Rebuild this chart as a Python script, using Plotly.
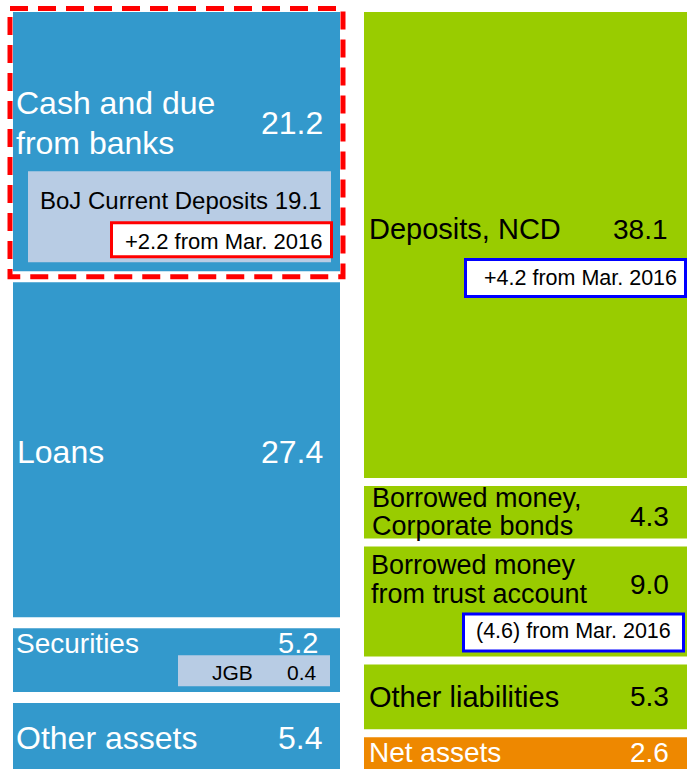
import plotly.graph_objects as go

# ---------------- data ----------------
asset_labels = [["Cash and due", "from banks"], ["Loans"], ["Securities"], ["Other assets"]]
asset_values = [21.2, 27.4, 5.2, 5.4]
liab_labels = [["Deposits, NCD"], ["Borrowed money,", "Corporate bonds"],
               ["Borrowed money", "from trust account"], ["Other liabilities"], ["Net assets"]]
liab_values = [38.1, 4.3, 9.0, 5.3, 2.6]
boj_label = "BoJ Current Deposits"
boj_value = 19.1
jgb_label = "JGB"
jgb_value = 0.4
change_cash = "+2.2 from Mar. 2016"
change_deposits = "+4.2 from Mar. 2016"
change_trust = "(4.6) from Mar. 2016"

# ---------------- styles ----------------
BLUE = "#3399CC"
GREEN = "#99CC00"
ORANGE = "#EE8800"
LIGHT = "#B8CCE4"
FONT = "Liberation Sans, Arial, sans-serif"

W, H = 687, 769
TOP_PAD = 12                 # white space above the blocks (px)
R = 61.9                     # y-axis span of the blocks (values + gaps)
PXY = (H - TOP_PAD) / R      # px per unit (y)
PXX = 351.0                  # px per unit (x)
BW = 327 / PXX               # bar width in x units


def dy(px):
    return px / PXY


def dx(px):
    return px / PXX


gap_l = (R - sum(asset_values)) / (len(asset_values) - 1)
gap_r = (R - sum(liab_values)) / (len(liab_values) - 1)


def tops(values, gap):
    t, out = 0.0, []
    for v in values:
        out.append(t)
        t += v + gap
    return out


a_top = tops(asset_values, gap_l)
l_top = tops(liab_values, gap_r)
a_bot = [t + v for t, v in zip(a_top, asset_values)]
l_bot = [t + v for t, v in zip(l_top, liab_values)]

fig = go.Figure()
fig.add_trace(go.Bar(x=[0] * len(asset_values), y=asset_values, base=a_top, width=BW,
                     marker=dict(color=BLUE, line=dict(width=0)), hoverinfo="skip"))
fig.add_trace(go.Bar(x=[1] * len(liab_values), y=liab_values, base=l_top, width=BW,
                     marker=dict(color=[GREEN, GREEN, GREEN, GREEN, ORANGE], line=dict(width=0)),
                     hoverinfo="skip"))

LX0, LX1 = -BW / 2, BW / 2
RX0, RC = 1 - BW / 2, 1.0

ann = []


def txt(text, x, y, xanchor, size, color, xs=0):
    ann.append(dict(text=text, x=x, y=y, xref="x", yref="y", xanchor=xanchor, yanchor="middle",
                    xshift=xs, showarrow=False, borderpad=0, borderwidth=0,
                    font=dict(family=FONT, size=size, color=color)))


# ---- assets ----
c = 0  # cash
txt(asset_labels[c][0], LX0, a_top[c] + dy(91), "left", 32, "white", 3)
txt(asset_labels[c][1], LX0, a_top[c] + dy(131), "left", 32, "white", 3)
txt(f"{asset_values[c]:.1f}", LX1, a_top[c] + dy(111), "right", 32, "white", -17)
c = 1  # loans
mid = (a_top[c] + a_bot[c]) / 2
txt(asset_labels[c][0], LX0, mid + dy(2), "left", 32, "white", 4)
txt(f"{asset_values[c]:.1f}", LX1, mid + dy(2), "right", 32, "white", -17)
c = 2  # securities
txt(asset_labels[c][0], LX0, a_top[c] + dy(15), "left", 28, "white", 3)
txt(f"{asset_values[c]:.1f}", LX1, a_top[c] + dy(15), "right", 29, "white", -22)
txt(jgb_label, LX1, a_top[c] + dy(44), "right", 21, "black", -87)
txt(f"{jgb_value:.1f}", LX1, a_top[c] + dy(44), "right", 21, "black", -23)
c = 3  # other assets
txt(asset_labels[c][0], LX0, a_top[c] + dy(35), "left", 32, "white", 3)
txt(f"{asset_values[c]:.1f}", LX1, a_top[c] + dy(35), "right", 32, "white", -18)

# BoJ box inside cash
boj_b = a_bot[0] - dy(9)
boj_t = boj_b - dy(91)
txt(f"{boj_label} {boj_value:.1f}", LX1, boj_t + dy(29), "right", 24, "black", -19)
txt(change_cash, LX1, boj_b - dy(21), "right", 22, "black", -17)

# ---- liabilities (right edge is cut by the page, anchor on column centre) ----
c = 0
txt(liab_labels[c][0], RX0, l_top[c] + dy(217), "left", 29, "black", 5)
txt(f"{liab_values[c]:.1f}", RC, l_top[c] + dy(217), "right", 28, "black", 140)
txt(change_deposits, RC, l_top[c] + dy(266), "right", 21.5, "black", 149)
c = 1
mid = (l_top[c] + l_bot[c]) / 2
txt(liab_labels[c][0], RX0, mid - dy(14), "left", 27, "black", 8)
txt(liab_labels[c][1], RX0, mid + dy(14), "left", 27, "black", 8)
txt(f"{liab_values[c]:.1f}", RC, mid + dy(4), "right", 28, "black", 141)
c = 2
txt(liab_labels[c][0], RX0, l_bot[c] - dy(91), "left", 27, "black", 7)
txt(liab_labels[c][1], RX0, l_bot[c] - dy(62), "left", 27, "black", 7)
txt(f"{liab_values[c]:.1f}", RC, l_bot[c] - dy(72), "right", 28, "black", 141)
txt(change_trust, RC, l_bot[c] - dy(25), "right", 21.5, "black", 143)
c = 3
mid = (l_top[c] + l_bot[c]) / 2
txt(liab_labels[c][0], RX0, mid, "left", 29, "black", 5)
txt(f"{liab_values[c]:.1f}", RC, mid, "right", 28, "black", 141)
c = 4
txt(liab_labels[c][0], RX0, l_top[c] + dy(15), "left", 28, "white", 5)
txt(f"{liab_values[c]:.1f}", RC, l_top[c] + dy(15), "right", 28, "white", 141)

# ---------------- shapes ----------------
shapes = [
    # BoJ light box
    dict(type="rect", xref="x", yref="y", x0=LX0 + dx(15), x1=LX1 - dx(9), y0=boj_t, y1=boj_b,
         fillcolor=LIGHT, line=dict(width=0), layer="above"),
    # red change box
    dict(type="rect", xref="x", yref="y", x0=LX0 + dx(98.5), x1=LX1 - dx(8.5),
         y0=boj_b - dy(39.5), y1=boj_b - dy(5.5),
         fillcolor="white", line=dict(color="#FF0000", width=3), layer="above"),
    # red dashed frame around cash
    dict(type="rect", xref="x", yref="y", x0=LX0 - dx(3), x1=LX1 + dx(3),
         y0=a_top[0] - dy(3.5), y1=a_bot[0] + dy(5.5),
         fillcolor="rgba(0,0,0,0)", line=dict(color="#FF0000", width=5, dash="18px,10px"),
         layer="above"),
    # JGB box
    dict(type="rect", xref="x", yref="y", x0=LX0 + dx(165), x1=LX1 - dx(10),
         y0=a_top[2] + dy(27), y1=a_top[2] + dy(58),
         fillcolor=LIGHT, line=dict(width=0), layer="above"),
    # blue box deposits
    dict(type="rect", xref="x", yref="y", x0=RX0 + dx(101.5), x1=RC + dx(158),
         y0=l_top[0] + dy(247.5), y1=l_top[0] + dy(284.5),
         fillcolor="white", line=dict(color="#0000FF", width=3), layer="above"),
    # blue box trust
    dict(type="rect", xref="x", yref="y", x0=RX0 + dx(99.5), x1=RC + dx(156),
         y0=l_bot[2] - dy(42.5), y1=l_bot[2] - dy(5.5),
         fillcolor="white", line=dict(color="#0000FF", width=3), layer="above"),
]

fig.update_layout(
    width=W, height=H, margin=dict(l=0, r=0, t=0, b=0, pad=0),
    paper_bgcolor="white", plot_bgcolor="white",
    barmode="overlay", showlegend=False,
    xaxis=dict(range=[-176.5 / PXX, (W - 176.5) / PXX], visible=False, fixedrange=True),
    yaxis=dict(range=[R, -dy(TOP_PAD)], visible=False, fixedrange=True),
    annotations=ann, shapes=shapes,
)

fig.write_html("out.html", config={"displayModeBar": False},
               post_script="document.body.style.margin='0';document.body.style.overflow='hidden';")
